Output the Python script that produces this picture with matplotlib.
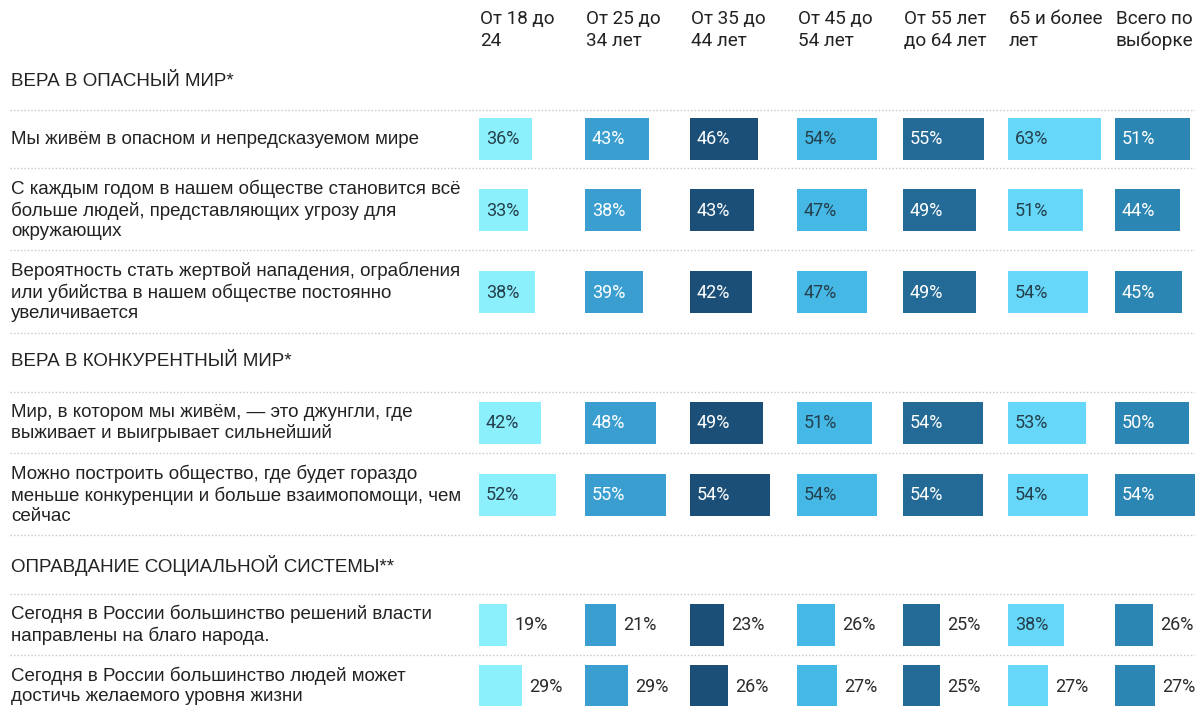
import matplotlib
matplotlib.use("Agg")
import matplotlib.pyplot as plt
from matplotlib import font_manager

# ---------------- data ----------------
columns = ["От 18 до\n24", "От 25 до\n34 лет", "От 35 до\n44 лет", "От 45 до\n54 лет",
           "От 55 лет\nдо 64 лет", "65 и более\nлет", "Всего по\nвыборке"]

section_titles = ["ВЕРА В ОПАСНЫЙ МИР*", "ВЕРА В КОНКУРЕНТНЫЙ МИР*",
                  "ОПРАВДАНИЕ СОЦИАЛЬНОЙ СИСТЕМЫ**"]

row_labels = [
    "Мы живём в опасном и непредсказуемом мире",
    "С каждым годом в нашем обществе становится всё\nбольше людей, представляющих угрозу для\nокружающих",
    "Вероятность стать жертвой нападения, ограбления\nили убийства в нашем обществе постоянно\nувеличивается",
    "Мир, в котором мы живём, — это джунгли, где\nвыживает и выигрывает сильнейший",
    "Можно построить общество, где будет гораздо\nменьше конкуренции и больше взаимопомощи, чем\nсейчас",
    "Сегодня в России большинство решений власти\nнаправлены на благо народа.",
    "Сегодня в России большинство людей может\nдостичь желаемого уровня жизни",
]

values_18_24 = [36, 33, 38, 42, 52, 19, 29]
values_25_34 = [43, 38, 39, 48, 55, 21, 29]
values_35_44 = [46, 43, 42, 49, 54, 23, 26]
values_45_54 = [54, 47, 47, 51, 54, 26, 27]
values_55_64 = [55, 49, 49, 54, 54, 25, 25]
values_65_plus = [63, 51, 54, 53, 54, 38, 27]
values_total = [51, 44, 45, 50, 54, 26, 27]
series = [values_18_24, values_25_34, values_35_44, values_45_54,
          values_55_64, values_65_plus, values_total]

# ---------------- style / layout ----------------
col_colors = ["#8cf0fc", "#3a9fd0", "#1b4f78", "#46b8e6", "#236a96", "#67d7f9", "#2c86b3"]
inner_text = ["#24404c", "white", "white", "#24404c", "white", "#24404c", "white"]
col_x = [479, 585, 690, 797, 903, 1008, 1115]
px_per_pct = 1.48
bar_h = 42
row_y = [139, 210, 292, 423, 495, 625, 686]
section_y = [82, 362, 566]
dotted_y = [110, 168, 250, 333, 392, 453, 535, 594, 655]

W, H = 1195, 706
fig = plt.figure(figsize=(W / 100, H / 100), dpi=100)
ax = fig.add_axes([0, 0, 1, 1])
ax.set_xlim(0, W)
ax.set_ylim(H, 0)
ax.axis("off")

def pick(fams):
    avail = {f.name for f in font_manager.fontManager.ttflist}
    for f in fams:
        if f in avail:
            return f
    return "DejaVu Sans"

body_font = pick(["Liberation Sans", "Arimo", "DejaVu Sans"])
head_font = pick(["Roboto", "Liberation Sans"])
pct_font = pick(["Roboto", "Liberation Sans"])

txt_color = "#222222"
fs_body = 13.5
fs_head = 13.6
fs_pct = 13.0

# column headers
for cx, name in zip(col_x, columns):
    ax.text(cx + 1, 30, name, ha="left", va="center", fontsize=fs_head,
            family=head_font, color=txt_color, linespacing=1.22)

# dotted separators
for yy in dotted_y:
    ax.plot([10, W], [yy, yy], color="#c8c8c8", lw=1.0, ls=(0, (1, 1.5)))

# section headers
for yy, t in zip(section_y, section_titles):
    ax.text(11, yy, t, ha="left", va="center", fontsize=fs_body,
            family=body_font, color=txt_color)

# row labels
for yy, lab in zip(row_y, row_labels):
    ax.text(11, yy, lab, ha="left", va="center", fontsize=fs_body,
            family=body_font, color=txt_color, linespacing=1.22)

# bars
for ci, vals in enumerate(series):
    widths = [v * px_per_pct for v in vals]
    ax.barh(row_y, widths, left=col_x[ci], height=bar_h,
            color=col_colors[ci], edgecolor="none")
    for yy, v, w in zip(row_y, vals, widths):
        if w >= 45:
            ax.text(col_x[ci] + 7, yy + 0.5, f"{v}%", ha="left", va="center",
                    fontsize=fs_pct, family=pct_font, color=inner_text[ci])
        else:
            ax.text(col_x[ci] + w + 7, yy + 0.5, f"{v}%", ha="left", va="center",
                    fontsize=fs_pct, family=pct_font, color="#2b2b2b")

fig.savefig("out.png", dpi=100, facecolor="white")
